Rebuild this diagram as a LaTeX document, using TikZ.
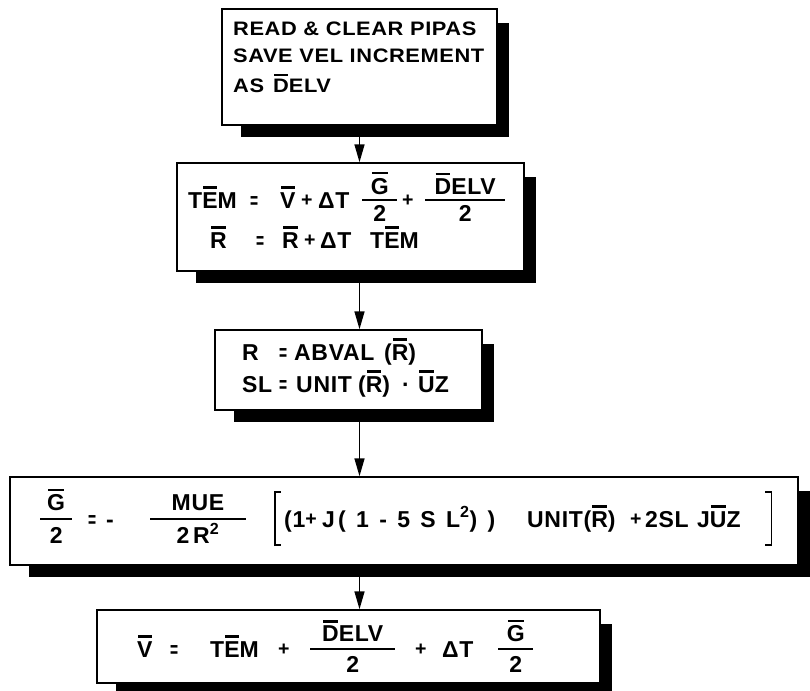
\documentclass[tikz,border=0pt]{standalone}
\usepackage{fontspec}
\usepackage{graphicx}
\setmainfont{Liberation Sans}
\newfontfamily\fonta{Liberation Sans}[FakeStretch=1.12,LetterSpace=3]
\newfontfamily\fontb{Liberation Sans}[LetterSpace=3]
\usetikzlibrary{arrows.meta,backgrounds}

% letter with a bar over it
\newcommand{\ob}[1]{\setbox0\hbox{#1}\rlap{\hbox to \wd0{\hss\raisebox{\dimexpr\ht0+3.5pt\relax}{\rule{\dimexpr\wd0-2pt\relax}{2.2pt}}\hss}}\box0}
% fraction with a thick bar, centred on the capitals
\newdimen\frg \frg=5.9pt
\newcommand{\fr}[3][6pt]{\begingroup
  \setbox2\hbox{\hspace{#1}\raisebox{0pt}[\height][0pt]{#2}\hspace{#1}}%
  \setbox4\hbox{\hspace{#1}\raisebox{0pt}[16.5pt][0pt]{#3}\hspace{#1}}%
  \dimen2=\ifdim\wd2>\wd4 \wd2\else\wd4\fi
  \raisebox{\dimexpr-9.15pt-\frg\relax}{\vbox{\hbox to\dimen2{\hss\box2\hss}\kern\frg\hrule height 1.8pt\kern\frg\hbox to\dimen2{\hss\box4\hss}}}\endgroup}
% piece of a line at a fixed width
\newcommand{\pcs}[2]{\makebox[#1pt][l]{#2}}
\newcommand{\eq}{\scalebox{0.6}[1]{=}}
\newcommand{\pl}{\raisebox{1.25pt}{\scalebox{0.85}{+}}}
% tall square brackets
\newcommand{\lbrk}{\rlap{\rule[-19pt]{1.6pt}{55pt}}\rlap{\rule[-19pt]{7pt}{1.6pt}}\rule[34.4pt]{7pt}{1.6pt}}
\newcommand{\rbrk}{\rlap{\rule[-19pt]{7pt}{1.6pt}}\rlap{\rule[34.4pt]{7pt}{1.6pt}}\hspace{5.4pt}\rule[-19pt]{1.6pt}{55pt}}

\tikzset{
  box/.style={draw=black, fill=white, line width=1.5pt, inner sep=0pt},
  shadowfill/.style={fill=black},
  arr/.style={line width=1.6pt, -{Triangle[length=18pt,width=10pt]}},
  txa/.style={inner sep=0pt, anchor=base west, font=\fonta\bfseries\fontsize{19.5}{23}\selectfont},
  txb/.style={inner sep=0pt, anchor=base west, font=\fontb\bfseries\fontsize{23}{26}\selectfont},
}

\begin{document}
\begin{tikzpicture}[x=1pt,y=-1pt]
\useasboundingbox (0,0) rectangle (810,690);

% boxes
\node[box, minimum width=275pt, minimum height=116pt] (b1) at (359.5,67) {};
\node[box, minimum width=347pt, minimum height=108pt] (b2) at (350.5,217) {};
\node[box, minimum width=267pt, minimum height=80pt] (b3) at (348.5,370) {};
\node[box, minimum width=788pt, minimum height=88pt] (b4) at (404,521) {};
\node[box, minimum width=503pt, minimum height=73pt] (b5) at (348.5,646.5) {};

% texts
\node[txa] (t1a) at (233,36) {READ \& CLEAR PIPAS};
\node[txa] (t1b) at (233,63) {SAVE VEL INCREMENT};
\node[txa] (t1c) at (233,93) {\pcs{40}{AS}\ob{D}ELV};

\node[txb] (t2a) at (188,208) {\frg=4.8pt\pcs{62}{T\ob{E}M}\pcs{30}{\eq}\pcs{21}{\ob{V}}\pcs{17}{\pl}\pcs{44}{ΔT}\pcs{40}{\fr[8.7pt]{\ob{G}}{2}}\pcs{23}{\pl}\fr[9.5pt]{\ob{D}ELV}{2}};
\node[txb] (t2b) at (210,248) {\pcs{46}{\ob{R}}\pcs{26}{\eq}\pcs{22}{\ob{R}}\pcs{16}{\pl}\pcs{50}{ΔT}T\ob{E}M};

\node[txb] (t3a) at (242,360) {\pcs{37}{R}\pcs{15}{\eq}\pcs{90}{ABVAL}(\ob{R})};
\node[txb] (t3b) at (242,392) {\pcs{37}{SL}\pcs{17}{\eq}\pcs{62}{UNIT}\pcs{44}{(\ob{R})}\pcs{16}{·}\ob{U}Z};

\node[txb] (t4) at (40,527) {\frg=7.5pt\pcs{48}{\fr[7pt]{\ob{G}}{2}}\pcs{18}{\eq}\pcs{44}{-}\pcs{124}{\fr[21.5pt]{MUE}{2\,R\textsuperscript{2}}}\pcs{10}{\lbrk}\pcs{38}{(1\pl}\pcs{16}{J}\pcs{189}{\addfontfeatures{LetterSpace=45}(1-5SL\textsuperscript{2}))}\pcs{103}{UNIT(\ob{R})}\pcs{15}{\pl}\pcs{52}{2SL}\pcs{68}{J\ob{U}Z}\rbrk};

\node[txb] (t5) at (137,657) {\pcs{33}{\ob{V}}\pcs{40}{\eq}\pcs{68}{T\ob{E}M}\pcs{32}{\pl}\pcs{105}{\fr[12pt]{\ob{D}ELV}{2}}\pcs{27}{\pl}\pcs{56}{ΔT}\fr[8.7pt]{\ob{G}}{2}};

% connectors
\draw[arr] (b1.south) -- (b1.south |- b2.north);
\draw[arr] (b1.south |- b2.south) -- (b1.south |- b3.north);
\draw[arr] (b1.south |- b3.south) -- (b1.south |- b4.north);
\draw[arr] (b1.south |- b4.south) -- (b1.south |- b5.north);

% background and shadows
\begin{pgfonlayer}{background}
\fill[white] (0,0) rectangle (810,690);
\foreach \b in {b1,b2,b3,b4,b5}{
  \fill[shadowfill] ([shift={(20,15)}]\b.north west) rectangle ([shift={(11,11)}]\b.south east);
}
\end{pgfonlayer}
\end{tikzpicture}
\end{document}
